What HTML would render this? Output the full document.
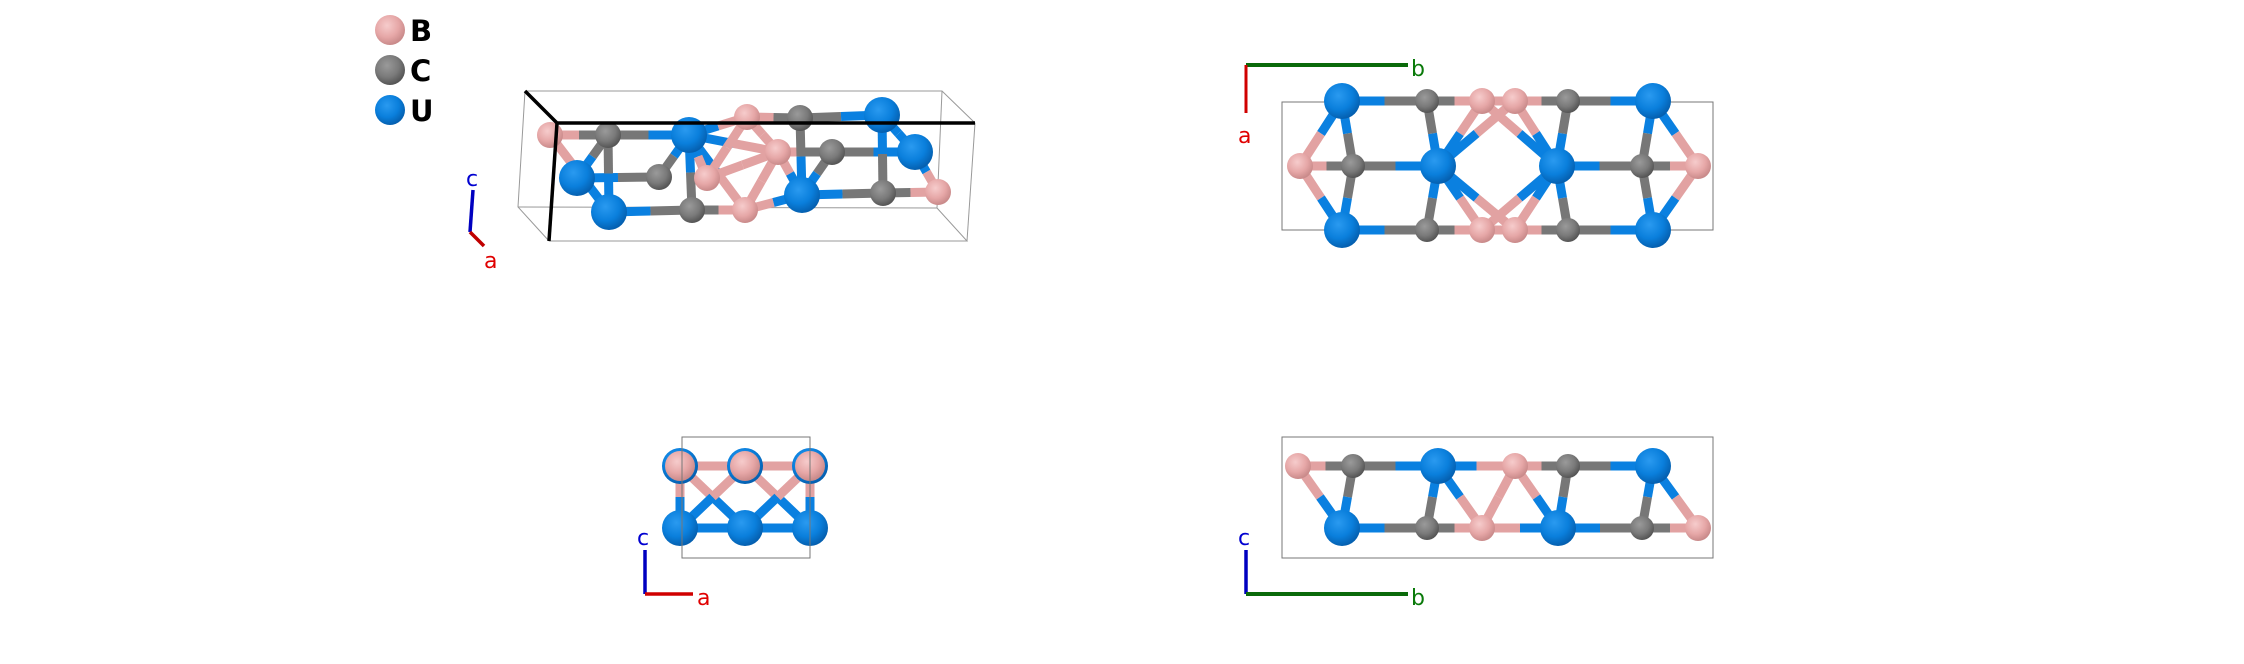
<!DOCTYPE html>
<html><head><meta charset="utf-8"><style>
html,body{margin:0;padding:0;background:#fff;}
svg{display:block;}
text{font-family:"DejaVu Sans","Liberation Sans",sans-serif;}
</style></head><body>
<svg id="s" width="2244" height="664" viewBox="0 0 2244 664" xmlns="http://www.w3.org/2000/svg">
<defs>
<radialGradient id="gB" cx="0.4" cy="0.35" r="0.65"><stop offset="0" stop-color="#f6cccc"/><stop offset="0.6" stop-color="#e6a7a7"/><stop offset="1" stop-color="#c98a8a"/></radialGradient>
<radialGradient id="gC" cx="0.4" cy="0.35" r="0.65"><stop offset="0" stop-color="#9a9a9a"/><stop offset="0.6" stop-color="#7a7a7a"/><stop offset="1" stop-color="#555"/></radialGradient>
<radialGradient id="gU" cx="0.4" cy="0.35" r="0.65"><stop offset="0" stop-color="#2a9af0"/><stop offset="0.6" stop-color="#0a7fdc"/><stop offset="1" stop-color="#0560b0"/></radialGradient>
</defs>
<!-- legend -->
<circle cx="390" cy="30" r="15" fill="url(#gB)"/>
<circle cx="390" cy="70" r="15" fill="url(#gC)"/>
<circle cx="390" cy="110" r="15" fill="url(#gU)"/>
<text x="410" y="41" font-size="29" font-weight="bold" fill="#000">B</text>
<text x="410" y="81" font-size="29" font-weight="bold" fill="#000">C</text>
<text x="410" y="121" font-size="29" font-weight="bold" fill="#000">U</text>
<!-- view1 box -->
<g stroke="#999" stroke-width="1" fill="none">
<polyline points="525,91 942,91 975,123"/>
<polyline points="525,91 518,207 549,241"/>
<polyline points="518,207 937,208 967,241 549,241"/>
<line x1="942" y1="91" x2="937" y2="208"/>
<line x1="975" y1="123" x2="967" y2="241"/>
</g>
<g id="v1"></g>
<g stroke="#000" stroke-width="3.5" fill="none">
<polyline points="525,91 557,123 975,123"/>
<line x1="557" y1="123" x2="549" y2="241"/>
</g>
<line x1="473" y1="190" x2="470" y2="232" stroke="#0000c0" stroke-width="3.5"/>
<line x1="470" y1="232" x2="484" y2="246" stroke="#c00000" stroke-width="3.5"/>
<text x="466" y="186" font-size="22" fill="#0000d0">c</text>
<text x="484" y="268" font-size="22" fill="#e00000">a</text>
<!-- view2 -->
<rect x="1282" y="102" width="431" height="128" fill="none" stroke="#777" stroke-width="1"/>
<g id="v2"></g>
<line x1="1246" y1="65" x2="1408" y2="65" stroke="#0a6a0a" stroke-width="4"/>
<line x1="1246" y1="65" x2="1246" y2="113" stroke="#d00000" stroke-width="3"/>
<text x="1411" y="76" font-size="22" fill="#0a7a0a">b</text>
<text x="1238" y="143" font-size="22" fill="#e00000">a</text>
<!-- view3 -->
<g id="v3"></g>
<rect x="682" y="437" width="128" height="121" fill="none" stroke="#777" stroke-width="1"/>
<line x1="645" y1="550" x2="645" y2="594" stroke="#0000c0" stroke-width="3.5"/>
<line x1="645" y1="594" x2="693" y2="594" stroke="#d00000" stroke-width="3.5"/>
<text x="637" y="545" font-size="22" fill="#0000d0">c</text>
<text x="697" y="605" font-size="22" fill="#e00000">a</text>
<!-- view4 -->
<rect x="1282" y="437" width="431" height="121" fill="none" stroke="#777" stroke-width="1"/>
<g id="v4"></g>
<line x1="1246" y1="550" x2="1246" y2="594" stroke="#0000c0" stroke-width="3.5"/>
<line x1="1246" y1="594" x2="1408" y2="594" stroke="#0a6a0a" stroke-width="4"/>
<text x="1238" y="545" font-size="22" fill="#0000d0">c</text>
<text x="1411" y="605" font-size="22" fill="#0a7a0a">b</text>
</svg>
<script>
var NS="http://www.w3.org/2000/svg";
var BC={B:"#e2a2a2",C:"#777",U:"#0a80e0"};
var R={B:13,C:12,U:18};
function build(id,atoms,bonds,rs){
 var g=document.getElementById(id);
 bonds.forEach(function(b){
  var a=atoms[b[0]],c=atoms[b[1]];
  var mx=(a[1]+c[1])/2,my=(a[2]+c[2])/2;
  [[a,mx,my],[c,mx,my]].forEach(function(p){
   var l=document.createElementNS(NS,"line");
   l.setAttribute("x1",p[0][1]);l.setAttribute("y1",p[0][2]);
   l.setAttribute("x2",p[1]);l.setAttribute("y2",p[2]);
   l.setAttribute("stroke",BC[p[0][0]]);l.setAttribute("stroke-width",9);
   g.appendChild(l);
  });
 });
 atoms.forEach(function(a){
  var c=document.createElementNS(NS,"circle");
  c.setAttribute("cx",a[1]);c.setAttribute("cy",a[2]);
  c.setAttribute("r",(rs&&rs[a[0]])||R[a[0]]);
  c.setAttribute("fill","url(#g"+a[0]+")");
  g.appendChild(c);
 });
}
// view1
var a1=[["B",747,117],["C",800,118],["U",882,115],["B",707,178],["U",577,178],["C",659,177],
["B",550,135],["C",608,135],["U",689,135],["B",778,152],["C",832,152],["U",915,152],
["U",802,195],["C",883,193],["B",938,192],["U",609,212],["C",692,210],["B",745,210]];
var b1=[[0,1],[1,2],[6,7],[7,8],[9,10],[10,11],[4,5],[12,13],[13,14],[15,16],[16,17],
[7,4],[7,15],[6,15],[8,16],[8,5],[8,9],[8,0],[8,17],[8,3],[0,9],[0,3],[9,17],[9,12],[17,12],[3,9],
[1,12],[10,12],[2,11],[2,13],[11,14]];
build("v1",a1,b1,{B:13,C:13,U:18});
// view2
var a2=[["U",1342,101],["C",1427,101],["B",1482,101],["B",1515,101],["C",1568,101],["U",1653,101],
["B",1300,166],["C",1353,166],["U",1438,166],["U",1557,166],["C",1642,166],["B",1698,166],
["U",1342,230],["C",1427,230],["B",1482,230],["B",1515,230],["C",1568,230],["U",1653,230]];
var b2=[[0,1],[1,2],[2,3],[3,4],[4,5],[6,7],[7,8],[9,10],[10,11],[12,13],[13,14],[14,15],[15,16],[16,17],
[0,6],[0,7],[7,12],[6,12],[1,8],[2,8],[3,8],[2,9],[3,9],[4,9],[13,8],[14,8],[15,8],[14,9],[15,9],[16,9],
[5,10],[5,11],[10,17],[11,17]];
build("v2",a2,b2);
// view3
var a3=[["U",680,528],["U",745,528],["U",810,528],["U",680,466],["U",745,466],["U",810,466],["B",680,466],["B",745,466],["B",810,466]];
var b3=[[6,7],[7,8],[0,1],[1,2],[6,0],[8,2],[6,1],[7,0],[7,2],[8,1]];
build("v3",a3,b3,{B:15,U:18});
// view4
var a4=[["B",1298,466],["C",1353,466],["U",1438,466],["B",1515,466],["C",1568,466],["U",1653,466],
["U",1342,528],["C",1427,528],["B",1482,528],["U",1558,528],["C",1642,528],["B",1698,528]];
var b4=[[0,1],[1,2],[2,3],[3,4],[4,5],[6,7],[7,8],[8,9],[9,10],[10,11],
[0,6],[1,6],[2,7],[2,8],[3,8],[3,9],[4,9],[5,10],[5,11]];
build("v4",a4,b4);
</script>
</body></html>
